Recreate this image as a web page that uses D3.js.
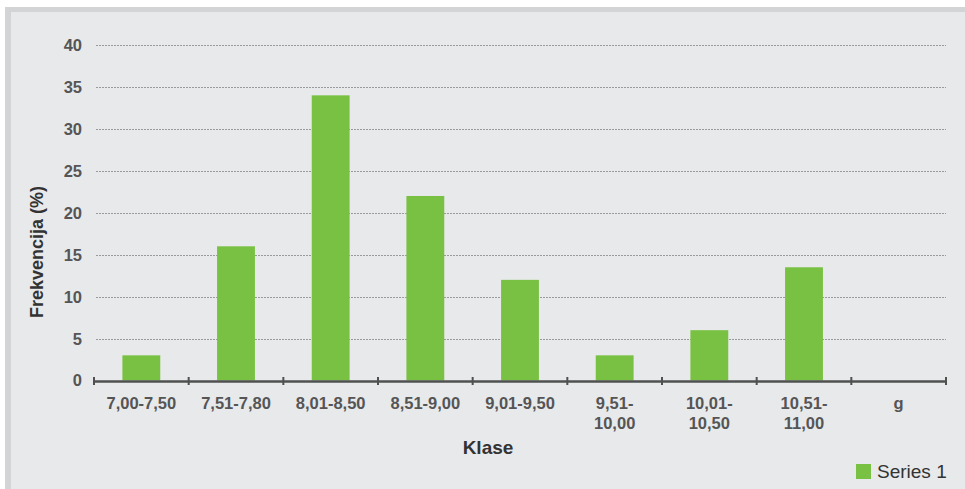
<!DOCTYPE html>
<html>
<head>
<meta charset="utf-8">
<script src="https://cdn.jsdelivr.net/npm/d3@7"></script>
<style>
  body { margin: 0; background: #fff; }
  svg { display: block; font-family: "Liberation Sans", Arial, sans-serif; }
</style>
</head>
<body>
<svg id="chart"></svg>
<script>
// data
var categories = ["7,00-7,50", "7,51-7,80", "8,01-8,50", "8,51-9,00", "9,01-9,50",
                  "9,51-|10,00", "10,01-|10,50", "10,51-|11,00", "g"];
var values = [3, 16, 34, 22, 12, 3, 6, 13.5, 0];
var yTicks = [0, 5, 10, 15, 20, 25, 30, 35, 40];
var seriesName = "Series 1";

var width = 965, height = 489,
    margin = {top: 45, right: 19, bottom: 108, left: 94};

var svg = d3.select("#chart").attr("width", width).attr("height", height);

// frame
svg.append("rect").attr("x", 5).attr("y", 7).attr("width", 960).attr("height", 482)
    .attr("fill", "#d3d4d6");
svg.append("rect").attr("x", 11).attr("y", 12).attr("width", 954).attr("height", 477)
    .attr("fill", "#e8e9eb");

var x = d3.scaleBand().domain(categories)
    .range([margin.left, width - margin.right]).paddingInner(0.6).paddingOuter(0.3);
var xAxisScale = d3.scaleBand().domain(categories).range([margin.left, width - margin.right]);
var y = d3.scaleLinear().domain([0, 40]).range([height - margin.bottom - 0.5, margin.top]);

// grid
svg.append("g").selectAll("line").data(yTicks.filter(function(d){return d > 0;}))
  .join("line")
    .attr("x1", margin.left + 2).attr("x2", width - margin.right)
    .attr("y1", function(d){return Math.round(y(d)) + 0.5;})
    .attr("y2", function(d){return Math.round(y(d)) + 0.5;})
    .attr("stroke", "#9a9a9c").attr("stroke-width", 1).attr("stroke-dasharray", "2,1");

// y tick labels
svg.append("g").selectAll("text").data(yTicks).join("text")
    .attr("x", 82).attr("y", function(d){return y(d);}).attr("dy", "0.36em")
    .attr("text-anchor", "end").attr("font-size", 16.5).attr("font-weight", "bold")
    .attr("fill", "#555").text(function(d){return d;});

// bars
svg.append("g").selectAll("rect").data(values).join("rect")
    .attr("x", function(d, i){return x(categories[i]);})
    .attr("width", x.bandwidth())
    .attr("y", function(d){return y(d);})
    .attr("height", function(d){return y(0) - y(d);})
    .attr("fill", "#79c143");

// x axis
var xAxis = d3.axisBottom(xAxisScale).tickSize(0).tickFormat("");
var gx = svg.append("g").attr("transform", "translate(0," + Math.round(y(0)) + ")").call(xAxis);
gx.select(".domain").attr("stroke", "#505050").attr("stroke-width", 2.5);
var tickPos = categories.map(function(c){return xAxisScale(c);}).concat([width - margin.right]);
gx.selectAll(".tk").data(tickPos).join("line").attr("class", "tk")
    .attr("x1", function(d){return d;}).attr("x2", function(d){return d;})
    .attr("y1", -4).attr("y2", 4).attr("stroke", "#505050").attr("stroke-width", 2);

// x labels
var lab = svg.append("g").selectAll("text").data(categories).join("text")
    .attr("x", function(d){return xAxisScale(d) + xAxisScale.bandwidth() / 2;})
    .attr("y", 409).attr("text-anchor", "middle").attr("font-size", 16.5)
    .attr("font-weight", "bold").attr("fill", "#555");
lab.each(function(d){
  var parts = d.split("|"), t = d3.select(this);
  parts.forEach(function(p, i){
    t.append("tspan").attr("x", t.attr("x")).attr("dy", i ? 20 : 0).text(p);
  });
});

// axis titles
svg.append("text").attr("x", 488).attr("y", 454).attr("text-anchor", "middle")
    .attr("font-size", 19).attr("font-weight", "bold").attr("fill", "#333").text("Klase");
svg.append("text").attr("transform", "translate(43,252) rotate(-90)")
    .attr("text-anchor", "middle").attr("font-size", 18).attr("font-weight", "bold")
    .attr("fill", "#333").text("Frekvencija (%)");

// legend
svg.append("rect").attr("x", 856).attr("y", 464).attr("width", 15).attr("height", 15)
    .attr("fill", "#79c143");
svg.append("text").attr("x", 877).attr("y", 478).attr("font-size", 19)
    .attr("fill", "#333").text(seriesName);
</script>
</body>
</html>
